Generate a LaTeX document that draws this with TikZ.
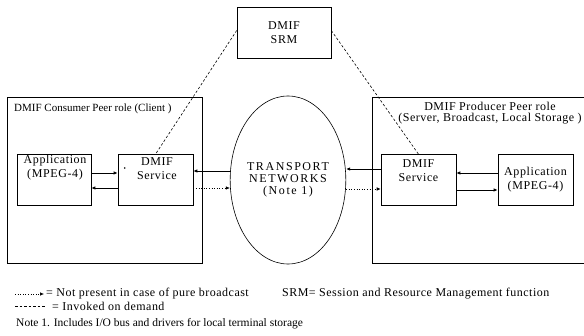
\documentclass[tikz,border=0pt]{standalone}
\usepackage{fontspec}
\setmainfont{Liberation Serif}
\usepackage{tikz}
\usetikzlibrary{arrows.meta,positioning,shapes.geometric}

\begin{document}
\begin{tikzpicture}[x=1pt,y=-1pt,
  box/.style={draw,line width=0.6pt,minimum width=75pt,minimum height=51pt,inner sep=0pt},
  role/.style={draw,line width=0.6pt,inner sep=0pt},
  cloud/.style={draw,line width=0.6pt,ellipse,minimum width=114pt,minimum height=168pt,
                inner sep=0pt,align=center,
                font=\fontsize{12}{12}\selectfont\addfontfeature{LetterSpace=13}},
  txt/.style={align=center,font=\fontsize{11}{12.5}\selectfont,inner sep=0pt},
  boxtxt/.style={align=center,inner sep=0pt,
                 font=\fontsize{12}{14}\selectfont\addfontfeature{LetterSpace=5}},
  legtxt/.style={anchor=west,inner sep=0pt,
                 font=\fontsize{12}{13}\selectfont\addfontfeature{LetterSpace=4}},
  arr/.style={-{Latex[length=4pt,width=3.5pt]},line width=0.8pt},
  opt/.style={-{Latex[length=4pt,width=3.5pt]},line width=0.6pt,dotted},
  ondemand/.style={line width=0.6pt,dash pattern=on 2.5pt off 2pt}
]
\useasboundingbox (0,0) rectangle (584,336);

% SRM
\node[box,minimum width=94pt] (srm) at (284,32.5) {};
\node[boxtxt] (srmtxt) at (srm.center) {DMIF\\SRM};

% Peer roles
\node[role,minimum width=195pt,minimum height=166pt] (cons) at (104.5,180) {};
\node[txt,anchor=west] (constxt) at (14,109) {DMIF Consumer Peer role (Client )};
\node[role,minimum width=220pt,minimum height=166pt] (prod) at (482,180) {};
\node[txt,font=\fontsize{12}{11.5}\selectfont\addfontfeature{LetterSpace=4}] (prodtxt)
  at (490,113) {DMIF Producer Peer role\\(Server, Broadcast, Local Storage )};

% Transport networks
\node[cloud] (trans) at (288,180) {TRANSPORT\\NETWORKS\\(Note 1)};

% Consumer side
\node[box,minimum width=74pt] (capp) at (54,180) {};
\node[boxtxt] (capptxt) at (55,168) {Application\\(MPEG-4)};
\node[box] (csvc) at (155.5,180) {};
\node[boxtxt] (csvctxt) at (157,169) {DMIF\\Service};
\fill ([xshift=7pt,yshift=12pt]csvc.west) circle (0.9pt);

% Producer side
\node[box] (psvc) at (418.5,180) {};
\node[boxtxt] (psvctxt) at (418.5,171) {DMIF\\Service};
\node[box] (papp) at (535.5,180) {};
\node[boxtxt] (papptxt) at (535.5,180) {Application\\(MPEG-4)};

% Arrows
\draw[arr] ([yshift=7pt]capp.east) -- ([yshift=7pt]csvc.west);
\draw[arr] ([yshift=-8pt]csvc.west) -- ([yshift=-8pt]capp.east);
\draw[arr] ([yshift=9pt]trans.west) -- ([yshift=9pt]csvc.east);
\draw[opt] ([yshift=-8pt]csvc.east) -- ([yshift=-8pt]trans.west);
\draw[arr] ([yshift=11pt]psvc.west) -- ([yshift=11pt]trans.east);
\draw[opt] ([yshift=-9pt]trans.east) -- ([yshift=-9pt]psvc.west);
\draw[arr] ([yshift=7pt]papp.west) -- ([yshift=7pt]psvc.east);
\draw[arr] ([yshift=-10pt]psvc.east) -- ([yshift=-10pt]papp.west);

% SRM invoked on demand
\draw[ondemand] ([yshift=2pt]srm.west) -- (csvc.north);
\draw[ondemand] ([yshift=2pt]srm.east) -- (psvc.north);

% Legend
\coordinate (l1a) at (15,294);
\coordinate (l1b) at (44,294);
\draw[opt] (l1a) -- (l1b);
\node[legtxt] (l1txt) at (46,294) {= Not present in case of pure broadcast};
\node[legtxt] (srmdef) at (282,294) {SRM= Session and Resource Management function};
\coordinate (l2a) at (15,306);
\coordinate (l2b) at (45,306);
\draw[ondemand] (l2a) -- (l2b);
\node[legtxt] (l2txt) at (52,306) {= Invoked on demand};
\node[legtxt,font=\fontsize{11.5}{13}\selectfont] (note) at (16,324)
  {Note 1. Includes I/O bus and drivers for local terminal storage};

\end{tikzpicture}
\end{document}
